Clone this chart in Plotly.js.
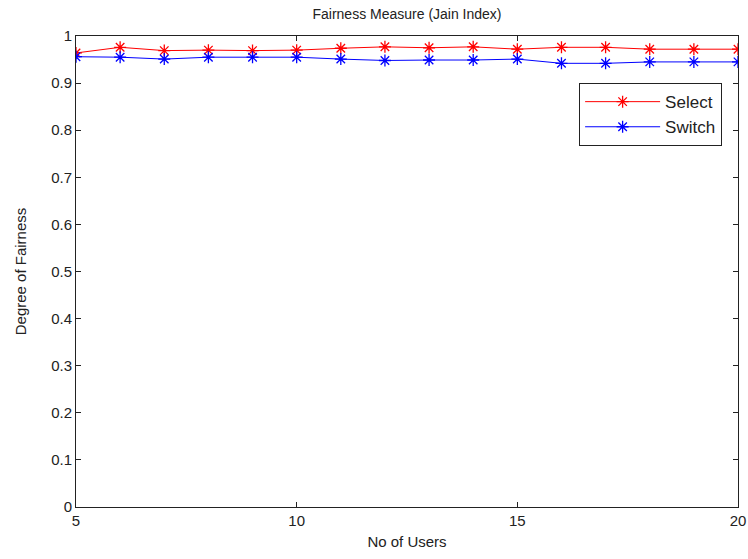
<!DOCTYPE html>
<html>
<head>
<meta charset="utf-8">
<script src="https://cdn.plot.ly/plotly-3.0.1.min.js"></script>
<style>html,body{margin:0;padding:0;background:#fff;}#chart{width:748px;height:559px;}</style>
</head>
<body>
<div id="chart"></div>
<script>
const users = [5,6,7,8,9,10,11,12,13,14,15,16,17,18,19,20];
const selectVals = [0.964,0.976,0.969,0.970,0.969,0.970,0.974,0.977,0.975,0.977,0.972,0.976,0.976,0.972,0.972,0.972];
const switchVals = [0.956,0.955,0.951,0.955,0.955,0.955,0.951,0.948,0.949,0.949,0.951,0.942,0.942,0.945,0.945,0.945];
const xTicks = [5,10,15,20];
const yTicks = [0,0.1,0.2,0.3,0.4,0.5,0.6,0.7,0.8,0.9,1];
const yTickText = ['0','0.1','0.2','0.3','0.4','0.5','0.6','0.7','0.8','0.9','1'];

const font = {family: 'Liberation Sans, Arial, sans-serif', size: 15, color: '#222'};
const traces = [
  {x: users, y: selectVals, name: 'Select', mode: 'lines+markers', type: 'scatter',
   line: {color: '#ff0000', width: 1}, marker: {symbol: 'asterisk-open', size: 10, color: '#ff0000', line: {color: '#ff0000', width: 1.3}}},
  {x: users, y: switchVals, name: 'Switch', mode: 'lines+markers', type: 'scatter',
   line: {color: '#0000ff', width: 1}, marker: {symbol: 'asterisk-open', size: 10, color: '#0000ff', line: {color: '#0000ff', width: 1.3}}}
];
const layout = {
  width: 748, height: 559,
  margin: {l: 76, r: 10, t: 36, b: 52},
  paper_bgcolor: '#fff', plot_bgcolor: '#fff',
  font: font,
  title: {text: 'Fairness Measure (Jain Index)', font: {family: font.family, size: 14, color: '#222'}, x: 0.5, xanchor: 'center', y: 0.975, yanchor: 'middle', xref: 'paper'},
  xaxis: {range: [5,20], tickvals: xTicks, ticktext: xTicks.map(String), showgrid: false, zeroline: false,
    showline: true, linecolor: '#222', linewidth: 1, mirror: 'allticks', ticks: 'inside', ticklen: 5, tickcolor: '#222',
    title: {text: 'No of Users', font: {family: font.family, size: 15, color: '#222'}, standoff: 8}, tickfont: font},
  yaxis: {range: [0,1], tickvals: yTicks, ticktext: yTickText, showgrid: false, zeroline: false,
    showline: true, linecolor: '#222', linewidth: 1, mirror: 'allticks', ticks: 'inside', ticklen: 5, tickcolor: '#222',
    title: {text: 'Degree of Fairness', font: {family: font.family, size: 15, color: '#222'}, standoff: 20}, tickfont: font},
  legend: {x: 0.976, xanchor: 'right', y: 0.9, yanchor: 'top', bgcolor: '#fff', bordercolor: '#222', borderwidth: 1,
    font: {family: font.family, size: 17, color: '#222'}, tracegroupgap: 0, itemwidth: 75},
  showlegend: true
};
Plotly.newPlot('chart', traces, layout, {displayModeBar: false, staticPlot: true});
</script>
</body>
</html>
